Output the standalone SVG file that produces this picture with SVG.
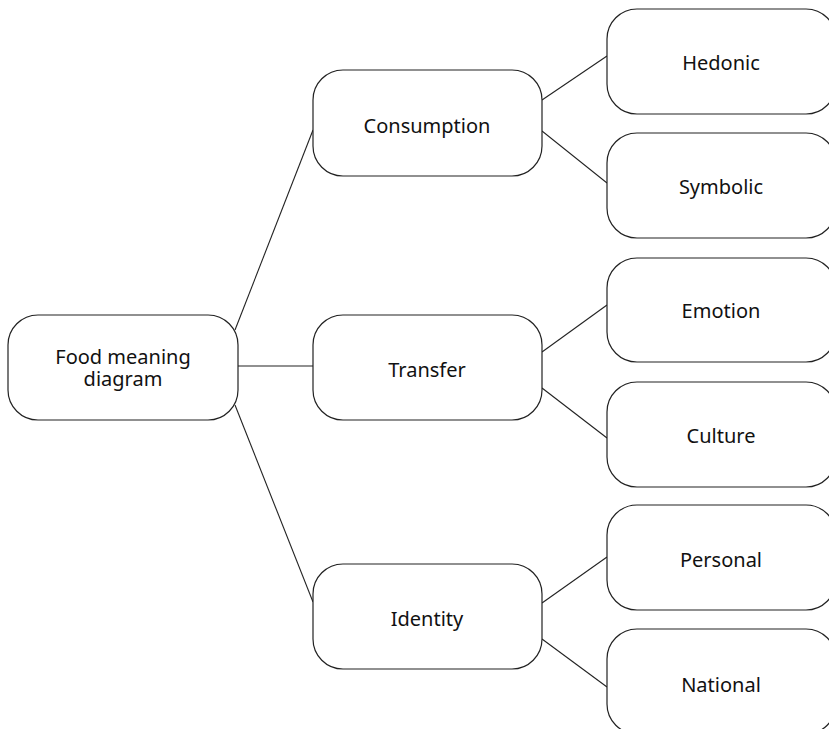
<svg xmlns="http://www.w3.org/2000/svg" width="829" height="729" viewBox="0 0 829 729">
<style>
.box{fill:#fff;stroke:#222;stroke-width:1.2}
.lbl{font-family:"Noto Sans","Open Sans",sans-serif;font-size:20px;fill:#111;text-anchor:middle}
.c line{stroke:#222;stroke-width:1.1}
</style>
<rect width="829" height="729" fill="#fff"/>
<g class="c" id="connectors">
<line x1="235" y1="330" x2="313" y2="130"/>
<line x1="238" y1="366" x2="313" y2="366"/>
<line x1="235" y1="405" x2="313" y2="602"/>
<line x1="542" y1="100" x2="607" y2="56"/>
<line x1="542" y1="131" x2="607" y2="183"/>
<line x1="542" y1="352" x2="607" y2="305"/>
<line x1="542" y1="388" x2="607" y2="438"/>
<line x1="542" y1="603" x2="607" y2="557"/>
<line x1="542" y1="639" x2="607" y2="687"/>
</g>
<g id="root"><rect class="box" x="8" y="315" width="230" height="105" rx="30"/><text class="lbl" x="123" y="364">Food meaning</text><text class="lbl" x="123" y="386">diagram</text></g>
<g id="consumption"><rect class="box" x="313" y="70" width="229" height="106" rx="30"/><text class="lbl" x="427" y="133">Consumption</text></g>
<g id="transfer"><rect class="box" x="313" y="315" width="229" height="105" rx="30"/><text class="lbl" x="427" y="377">Transfer</text></g>
<g id="identity"><rect class="box" x="313" y="564" width="229" height="105" rx="30"/><text class="lbl" x="427" y="626">Identity</text></g>
<g id="hedonic"><rect class="box" x="607" y="9" width="229" height="105" rx="30"/><text class="lbl" x="721" y="70">Hedonic</text></g>
<g id="symbolic"><rect class="box" x="607" y="133" width="229" height="105" rx="30"/><text class="lbl" x="721" y="194">Symbolic</text></g>
<g id="emotion"><rect class="box" x="607" y="258" width="229" height="104" rx="30"/><text class="lbl" x="721" y="318">Emotion</text></g>
<g id="culture"><rect class="box" x="607" y="382" width="229" height="105" rx="30"/><text class="lbl" x="721" y="443">Culture</text></g>
<g id="personal"><rect class="box" x="607" y="505" width="229" height="105" rx="30"/><text class="lbl" x="721" y="567">Personal</text></g>
<g id="national"><rect class="box" x="607" y="629" width="229" height="105" rx="30"/><text class="lbl" x="721" y="692">National</text></g>
</svg>
